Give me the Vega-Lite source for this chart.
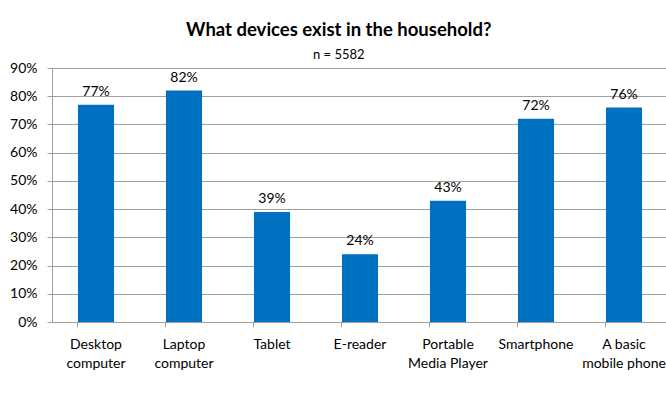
{
  "$schema": "https://vega.github.io/schema/vega-lite/v6.json",
  "autosize": {"type": "none"},
  "width": 616,
  "height": 254,
  "padding": {"left": 52, "top": 68, "right": 0, "bottom": 71},
  "background": "white",
  "title": {
    "text": "What devices exist in the household?",
    "subtitle": "n = 5582",
    "anchor": "middle",
    "frame": "bounds",
    "font": "Lato",
    "fontSize": 18.5,
    "fontWeight": "bold",
    "color": "#000000",
    "subtitleFont": "Lato",
    "subtitleFontSize": 13,
    "subtitleColor": "#000000",
    "subtitlePadding": 10,
    "offset": -1
  },
  "data": {
    "values": [
      {"device": "Desktop computer", "share": 0.77},
      {"device": "Laptop computer", "share": 0.82},
      {"device": "Tablet", "share": 0.39},
      {"device": "E-reader", "share": 0.24},
      {"device": "Portable Media Player", "share": 0.43},
      {"device": "Smartphone", "share": 0.72},
      {"device": "A basic mobile phone", "share": 0.76}
    ]
  },
  "encoding": {
    "x": {
      "field": "device",
      "type": "nominal",
      "sort": null,
      "scale": {"paddingInner": 0.59, "paddingOuter": 0.295},
      "axis": {
        "title": null,
        "labelAngle": 0,
        "labelFont": "Lato",
        "labelFontSize": 14,
        "labelColor": "#000000",
        "labelPadding": 10,
        "labelLineHeight": 19,
        "labelBaseline": "top",
        "tickSize": 5,
        "tickColor": "#a0a0a0",
        "domainColor": "#a0a0a0",
        "bandPosition": 0,
        "labelExpr": "datum.label == 'Portable Media Player' ? ['Portable', 'Media Player'] : datum.label == 'A basic mobile phone' ? ['A basic', 'mobile phone'] : split(datum.label, ' ')",
        "grid": false
      }
    },
    "y": {
      "field": "share",
      "type": "quantitative",
      "scale": {"domain": [0, 0.9], "nice": false},
      "axis": {
        "title": null,
        "format": ".0%",
        "values": [0, 0.1, 0.2, 0.3, 0.4, 0.5, 0.6, 0.7, 0.8, 0.9],
        "labelFont": "Lato",
        "labelFontSize": 14,
        "labelColor": "#000000",
        "labelPadding": 10,
        "tickSize": 5,
        "tickColor": "#a0a0a0",
        "domainColor": "#a0a0a0",
        "grid": true,
        "gridColor": "#a0a0a0",
        "gridOpacity": 1
      }
    }
  },
  "layer": [
    {"mark": {"type": "bar", "color": "#0070C0"}},
    {
      "mark": {"type": "text", "baseline": "bottom", "dy": -6, "font": "Lato", "fontSize": 14, "color": "#000000"},
      "encoding": {"text": {"field": "share", "type": "quantitative", "format": ".0%"}}
    }
  ],
  "config": {"view": {"stroke": null}}
}
